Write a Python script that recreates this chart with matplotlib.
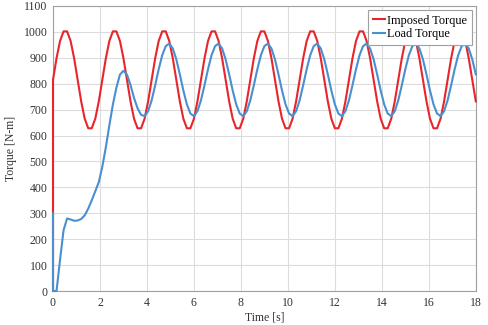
import numpy as np
import matplotlib
matplotlib.use('Agg')
import matplotlib.pyplot as plt

plt.rcParams['font.family'] = ['Liberation Serif', 'DejaVu Serif']

# sample times [s] (0.15 s step), first point repeated for the start-up jump
time = [0.0] + [round(0.15 * k, 2) for k in range(121)]

imposed = [0,
    815, 898, 965, 1002, 1002, 965, 898, 815, 732, 665, 628, 628, 665, 732,
    815, 898, 965, 1002, 1002, 965, 898, 815, 732, 665, 628, 628, 665, 732,
    815, 898, 965, 1002, 1002, 965, 898, 815, 732, 665, 628, 628, 665, 732,
    815, 898, 965, 1002, 1002, 965, 898, 815, 732, 665, 628, 628, 665, 732,
    815, 898, 965, 1002, 1002, 965, 898, 815, 732, 665, 628, 628, 665, 732,
    815, 898, 965, 1002, 1002, 965, 898, 815, 732, 665, 628, 628, 665, 732,
    815, 898, 965, 1002, 1002, 965, 898, 815, 732, 665, 628, 628, 665, 732,
    815, 898, 965, 1002, 1002, 965, 898, 815, 732, 665, 628, 628, 665, 732,
    815, 898, 965, 1002, 1002, 965, 898, 815, 732]

load = [300,
    0, 0, 120, 235, 280, 276, 271, 272, 278, 292, 318, 350, 385, 420,
    480, 555, 640, 720, 785, 835, 850, 835, 795, 745, 705, 680, 675, 694,
    736, 794, 856, 910, 945, 955, 936, 894, 836, 774, 720, 685, 675, 694,
    736, 794, 856, 910, 945, 955, 936, 894, 836, 774, 720, 685, 675, 694,
    736, 794, 856, 910, 945, 955, 936, 894, 836, 774, 720, 685, 675, 694,
    736, 794, 856, 910, 945, 955, 936, 894, 836, 774, 720, 685, 675, 694,
    736, 794, 856, 910, 945, 955, 936, 894, 836, 774, 720, 685, 675, 694,
    736, 794, 856, 910, 945, 955, 936, 894, 836, 774, 720, 685, 675, 694,
    736, 794, 856, 910, 945, 955, 936, 894, 836]

fig = plt.figure(figsize=(4.88, 3.25), dpi=100)
ax = fig.add_axes([0.1086, 0.1046, 0.8664, 0.877])

ax.plot(time, imposed, color='#e8252b', lw=1.5, label='Imposed Torque',
        clip_on=False, zorder=3)
ax.plot(time, load, color='#4a8fcf', lw=1.5, label='Load Torque',
        clip_on=False, zorder=4)

ax.set_xlim(0, 18)
ax.set_ylim(0, 1100)
ax.set_xticks(np.arange(0, 19, 2))
ax.set_yticks(np.arange(0, 1101, 100))
ax.grid(True, color='#dcdcdc', lw=0.8)
ax.set_axisbelow(True)
ax.tick_params(length=0, labelsize=8.5, colors='#333333', pad=4)
for s in ax.spines.values():
    s.set_color('#a0a0a0')
    s.set_linewidth(0.8)

ax.set_xlabel('Time [s]', fontsize=8.5, color='#333333', labelpad=2)
ax.set_ylabel('Torque [N-m]', fontsize=8.5, color='#333333', labelpad=5)

leg = ax.legend(loc='upper right', fontsize=8.8, handlelength=1.0,
                handletextpad=0.2, borderpad=0.35, labelspacing=0.15,
                fancybox=False, framealpha=1, borderaxespad=0.35)
leg.get_frame().set_edgecolor('#a0a0a0')
leg.get_frame().set_linewidth(0.8)
leg.set_zorder(5)

fig.savefig('out.png', dpi=100)
